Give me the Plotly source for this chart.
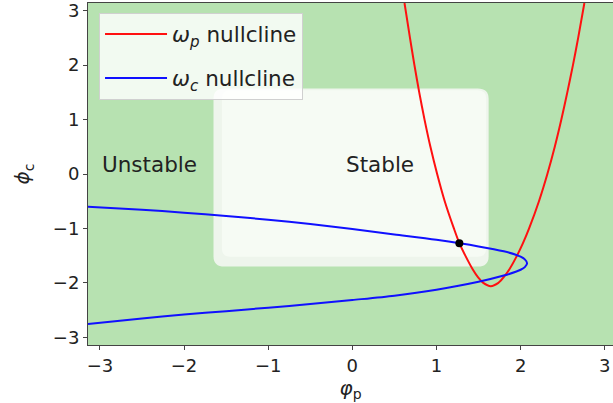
import math
import plotly.graph_objects as go

# omega_p nullcline: left branch from the top down to the minimum, then the right branch back up
wp_phi_p = [0.620, 0.685, 0.738, 0.795, 0.858, 0.928, 1.008, 1.098, 1.207, 1.272, 1.343, 1.430, 1.495, 1.556,
            1.645,
            1.736, 1.797, 1.867, 1.957, 2.028, 2.101, 2.218, 2.318, 2.406, 2.484, 2.555, 2.622, 2.684, 2.758]
wp_phi_c = [3.142, 2.500, 2.000, 1.500, 1.000, 0.500, 0.000, -0.500, -1.000, -1.271, -1.500, -1.750, -1.900, -2.000,
            -2.060,
            -2.000, -1.900, -1.750, -1.500, -1.271, -1.000, -0.500, 0.000, 0.500, 1.000, 1.500, 2.000, 2.500, 3.142]

# omega_c nullcline: upper branch from the left edge to the nose, then the lower branch back to the left edge
wc_phi_p = [-3.142, -2.500, -2.000, -1.500, -1.000, -0.500, 0.000, 0.500, 1.000, 1.500, 1.800, 1.950, 2.000, 2.050,
            2.077,
            2.050, 2.000, 1.950, 1.800, 1.500, 1.000, 0.500, 0.000, -0.500, -1.000, -1.500, -2.000, -2.500, -3.142]
wc_phi_c = [-0.600, -0.655, -0.710, -0.770, -0.840, -0.920, -1.010, -1.110, -1.210, -1.330, -1.420, -1.487, -1.520, -1.569,
            -1.640,
            -1.710, -1.759, -1.792, -1.866, -1.980, -2.125, -2.235, -2.315, -2.390, -2.455, -2.520, -2.580, -2.655, -2.755]

# fixed point where the two nullclines cross
fixed_phi_p = [1.272]
fixed_phi_c = [-1.271]

# stable region bounds (phi_p, phi_c)
stable_x = [-1.65, 1.62]
stable_y = [-1.70, 1.57]

# region labels
region_labels = ["Unstable", "Stable"]
region_x = [-3.0, -0.1]
region_y = [0.0, 0.0]

tick_vals = [-3, -2, -1, 0, 1, 2, 3]
tick_text = ["\u22123", "\u22122", "\u22121", "0", "1", "2", "3"]

PI = math.pi
GREEN = "#b7e2b1"
FONT = "DejaVu Sans"


def rounded_rect(x0, x1, y0, y1, rx, ry):
    return (
        f"M {x0 + rx},{y0} L {x1 - rx},{y0} Q {x1},{y0} {x1},{y0 + ry} "
        f"L {x1},{y1 - ry} Q {x1},{y1} {x1 - rx},{y1} "
        f"L {x0 + rx},{y1} Q {x0},{y1} {x0},{y1 - ry} "
        f"L {x0},{y0 + ry} Q {x0},{y0} {x0 + rx},{y0} Z"
    )


fig = go.Figure()

fig.add_trace(go.Scatter(
    x=wp_phi_p, y=wp_phi_c, mode="lines",
    line=dict(color="#ff1010", width=2, shape="spline", smoothing=0.8),
    name="<i>ω<sub>p</sub></i> nullcline", legendgroup="a",
))
fig.add_trace(go.Scatter(
    x=wc_phi_p, y=wc_phi_c, mode="lines",
    line=dict(color="#1010ff", width=2, shape="spline", smoothing=0.8),
    name="<i>ω<sub>c</sub></i> nullcline", legendgroup="b",
))
fig.add_trace(go.Scatter(
    x=fixed_phi_p, y=fixed_phi_c, mode="markers",
    marker=dict(color="black", size=8), showlegend=False,
))

# stable region: slightly darker rim with a lighter core
x0, x1 = stable_x
y0, y1 = stable_y
fig.add_shape(type="path", xref="x", yref="y", layer="below",
              path=rounded_rect(x0, x1, y0, y1, 0.13, 0.19),
              fillcolor="#eef5ec", line=dict(width=0))
fig.add_shape(type="path", xref="x", yref="y", layer="below",
              path=rounded_rect(x0 + 0.1, x1 - 0.03, y0 + 0.18, y1 - 0.03, 0.1, 0.15),
              fillcolor="#f6fbf4", line=dict(width=0))

for label, lx, ly in zip(region_labels, region_x, region_y):
    fig.add_annotation(x=lx, y=ly, text=label, showarrow=False,
                       xanchor="left", yanchor="bottom", yshift=-5,
                       font=dict(family=FONT, size=21.5, color="#222222"))

fig.update_layout(
    width=613, height=403,
    margin=dict(l=88, r=0, t=3, b=58),
    paper_bgcolor="white", plot_bgcolor=GREEN,
    font=dict(family=FONT, size=18, color="#222222"),
    legend=dict(
        x=0.021, y=0.972, xanchor="left", yanchor="top",
        bgcolor="rgba(255,255,255,0.82)", bordercolor="#d0d0d0", borderwidth=1,
        font=dict(family=FONT, size=21.5, color="#222222"),
        tracegroupgap=13, itemwidth=62,
    ),
)
fig.update_xaxes(
    range=[-PI, 3.098], tickvals=tick_vals, ticktext=tick_text,
    ticks="outside", ticklen=4, tickcolor="#444444",
    showline=True, linecolor="#444444", linewidth=1, mirror=True,
    showgrid=False, zeroline=False,
    title=dict(text="<i>φ</i><sub>p</sub>", standoff=4, font=dict(family=FONT, size=20)),
)
fig.update_yaxes(
    range=[-PI, PI], tickvals=tick_vals, ticktext=tick_text,
    ticks="outside", ticklen=4, tickcolor="#444444",
    showline=True, linecolor="#444444", linewidth=1, mirror=False,
    showgrid=False, zeroline=False,
    title=dict(text="<i>ϕ</i><sub>c</sub>", standoff=17, font=dict(family=FONT, size=20)),
)

fig.write_html("out.html")
